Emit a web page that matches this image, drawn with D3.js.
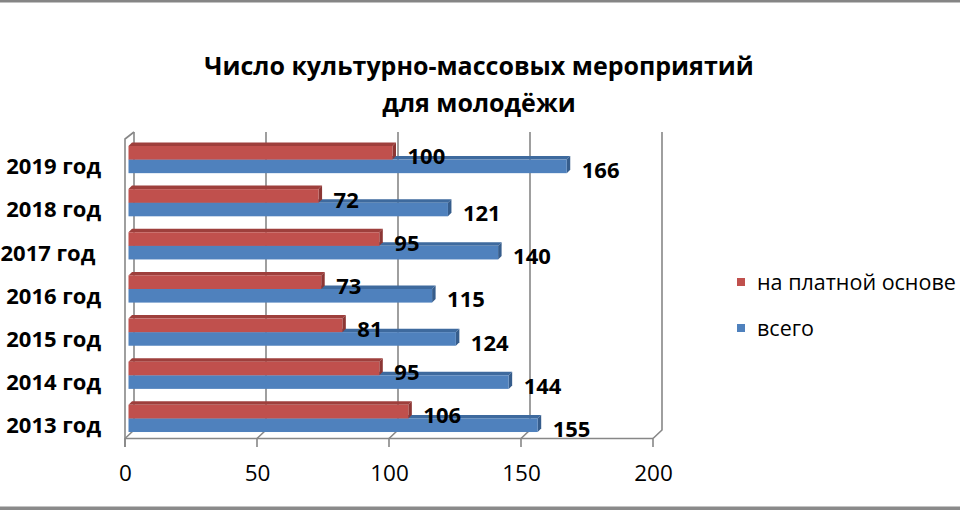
<!DOCTYPE html>
<html lang="ru">
<head>
  <meta charset="UTF-8">
  <title>Число культурно-массовых мероприятий для молодёжи</title>
  <script src="https://d3js.org/d3.v7.min.js"></script>
  <style>
    body {
      margin: 0;
      background: #fff;
    }
    svg {
      display: block;
      font-family: "Open Sans", sans-serif;
    }
  </style>
</head>
<body>
  <svg width="960" height="510"></svg>

  <script>
    // data
    const years = ["2019 год", "2018 год", "2017 год ", "2016 год", "2015 год", "2014 год", "2013 год"];
    const paid = [100, 72, 95, 73, 81, 95, 106];
    const total = [166, 121, 140, 115, 124, 144, 155];
    const tickValues = [0, 50, 100, 150, 200];
    const seriesNames = ["на платной основе", "всего"];
    const titleLines = ["Число культурно-массовых мероприятий", "для молодёжи"];

    const svg = d3.select("svg");

    // pseudo 3D: bars sit between a back wall and a front floor edge
    const back = { dx: 5.5, top: 132, bottom: 430 },
          front = { dx: -3.5, floor: 438.5, tick: 447, top: 139 },
          depth = { dx: 3.5, dy: 3.5 };

    const x = d3.scaleLinear().domain([0, 200]).range([128.5, 656.5]);
    const y = d3.scaleBand().domain(years).range([138, 440]).paddingInner(0.37).paddingOuter(0.185);
    const ySub = d3.scaleBand().domain(["paid", "total"]).range([0, y.bandwidth()]);

    const colors = {
      paid: { front: "#C0504D", top: "#9E3F3C", side: "#8C3634" },
      total: { front: "#4F81BD", top: "#3E6A9E", side: "#365D8C" }
    };

    // frame lines
    svg.append("rect").attr("x", 0).attr("y", 0).attr("width", 960).attr("height", 2.5).attr("fill", "#858585");
    svg.append("rect").attr("x", 0).attr("y", 506.5).attr("width", 960).attr("height", 3.5).attr("fill", "#8a8a8a");

    // title
    svg.append("text")
      .attr("text-anchor", "middle")
      .attr("font-weight", "bold")
      .attr("font-size", 25)
      .attr("fill", "#000")
      .selectAll("tspan")
      .data(titleLines)
      .join("tspan")
      .attr("x", 479)
      .attr("y", (d, i) => 75 + i * 37)
      .text(d => d);

    // walls and gridlines
    const grid = svg.append("g")
      .attr("fill", "none")
      .attr("stroke", "#878787")
      .attr("stroke-width", 1.6);

    tickValues.forEach(v => {
      const xb = x(v) + back.dx, xf = x(v) + front.dx;
      grid.append("path")
        .attr("d", `M${xb},${back.top}V${back.bottom}L${xf},${front.floor}V${front.tick}`);
    });
    // left wall front edge
    const x0b = x(0) + back.dx, x0f = x(0) + front.dx;
    grid.append("path")
      .attr("d", `M${x0f},${front.tick}V${front.top}L${x0b},${back.top}`);
    // front floor edge
    grid.append("path")
      .attr("d", `M${x0f},${front.floor}H${x(200) + front.dx}`);

    // bars
    const rows = years.map((yr, i) => ({ year: yr, paid: paid[i], total: total[i] }));

    const bars = [];
    rows.forEach(r => {
      ["total", "paid"].forEach(key => {
        bars.push({ year: r.year, key: key, value: r[key] });
      });
    });

    const barG = svg.append("g");
    bars.forEach(b => {
      const x0 = x(0), x1 = x(b.value);
      const y0 = y(b.year) + ySub(b.key), y1 = y0 + ySub.bandwidth();
      const c = colors[b.key];
      barG.append("path")
        .attr("fill", c.top)
        .attr("d", `M${x0},${y0}L${x0 + depth.dx},${y0 - depth.dy}H${x1 + depth.dx}L${x1},${y0}Z`);
      barG.append("path")
        .attr("fill", c.side)
        .attr("d", `M${x1},${y0}L${x1 + depth.dx},${y0 - depth.dy}V${y1 - depth.dy}L${x1},${y1}Z`);
      barG.append("rect")
        .attr("x", x0)
        .attr("y", y0)
        .attr("width", x1 - x0)
        .attr("height", y1 - y0)
        .attr("fill", c.front);
    });

    // value labels
    svg.append("g")
      .attr("font-weight", "bold")
      .attr("font-size", 22)
      .attr("fill", "#000")
      .selectAll("text")
      .data(bars)
      .join("text")
      .attr("x", d => x(d.value) + 15)
      .attr("y", d => y(d.year) + ySub(d.key) + ySub.bandwidth() / 2 + 4)
      .attr("dy", "0.35em")
      .text(d => d.value);

    // category labels
    svg.append("g")
      .attr("font-weight", "bold")
      .attr("font-size", 22)
      .attr("fill", "#000")
      .attr("text-anchor", "end")
      .selectAll("text")
      .data(years)
      .join("text")
      .style("white-space", "pre")
      .attr("x", 101)
      .attr("y", d => y(d) + y.bandwidth() / 2 + 7)
      .attr("dy", "0.35em")
      .text(d => d);

    // value axis along the front edge
    const xFront = x.copy().range(x.range().map(r => r + front.dx));
    const axis = svg.append("g")
      .attr("transform", `translate(0,${front.floor})`)
      .call(d3.axisBottom(xFront).tickValues(tickValues).tickSize(0).tickPadding(0));
    axis.select(".domain").remove();
    axis.selectAll("text")
      .attr("font-family", "Open Sans, sans-serif")
      .attr("font-size", 22.5)
      .attr("fill", "#000")
      .attr("y", 35)
      .attr("dy", "0.35em");

    // legend
    const legend = svg.append("g").attr("font-size", 21.5).attr("fill", "#000");
    seriesNames.forEach((name, i) => {
      const cy = 282 + i * 46;
      legend.append("rect")
        .attr("x", 737)
        .attr("y", cy - 4)
        .attr("width", 8)
        .attr("height", 8)
        .attr("fill", i === 0 ? colors.paid.front : colors.total.front);
      legend.append("text")
        .attr("x", 757)
        .attr("y", cy)
        .attr("dy", "0.35em")
        .text(name);
    });
  </script>
</body>
</html>
